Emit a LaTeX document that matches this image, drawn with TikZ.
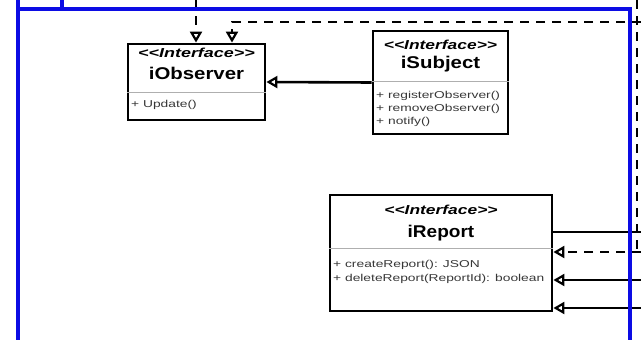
\documentclass[tikz,border=0pt]{standalone}
\usepackage{fontspec}
\setmainfont{Liberation Sans}
\usetikzlibrary{arrows.meta}
\definecolor{frameblue}{RGB}{12,12,228}
\definecolor{sepgray}{RGB}{175,175,175}
\definecolor{membergray}{RGB}{55,55,55}
% horizontally widened text
\newcommand{\wide}[2]{\scalebox{#1}[1]{#2}}
\newcommand{\stereotxt}{<{}<Interface>{}>}
\begin{document}
\begin{tikzpicture}[x=1pt,y=-1pt,
  umlbox/.style={draw=black, line width=2.8pt, rectangle, inner sep=0pt},
  stereo/.style={font=\fontsize{13}{13}\selectfont\bfseries\itshape, inner sep=0pt},
  cname/.style={font=\fontsize{17}{17}\selectfont\bfseries, inner sep=0pt},
  member/.style={font=\fontsize{10}{10}\selectfont, text=membergray, anchor=west, inner sep=0pt},
  sepline/.style={draw=sepgray, line width=0.7pt},
  conn/.style={draw=black, line width=2.6pt},
  dashconn/.style={conn, dash pattern=on 9pt off 7pt},
  realize/.style={-{Triangle[open, length=11pt, width=12pt, line width=2.2pt]}},
  frame/.style={draw=frameblue, line width=3.6pt, line join=miter}
]
\useasboundingbox (0,0) rectangle (641,340);

% class boxes
\node[umlbox, minimum width=137pt, minimum height=76pt] (obs) at (196.5,82) {};
\node[umlbox, minimum width=135pt, minimum height=103pt] (sub) at (440.5,82.5) {};
\node[umlbox, minimum width=222pt, minimum height=116pt] (rep) at (441,253) {};

% iObserver
\node[stereo] (obsst) at (196.5,53) {\wide{1.38}{\stereotxt}};
\node[cname] (obsnm) at (196.5,73) {\wide{1.2}{iObserver}};
\draw[sepline] (obs.west |- 0,92) -- (obs.east |- 0,92);
\node[member] (obsm1) at (131,105) {\wide{1.38}{+ Update()}};

% iSubject
\node[stereo] (subst) at (440.5,45) {\wide{1.34}{\stereotxt}};
\node[cname] (subnm) at (440.5,64) {\wide{1.2}{iSubject}};
\draw[sepline] (sub.west |- 0,81) -- (sub.east |- 0,81);
\node[member] (subm1) at (376,96) {\wide{1.38}{+ registerObserver()}};
\node[member] (subm2) at (376,109) {\wide{1.38}{+ removeObserver()}};
\node[member] (subm3) at (376,122) {\wide{1.38}{+ notify()}};

% iReport
\node[stereo] (repst) at (441,210) {\wide{1.34}{\stereotxt}};
\node[cname] (repnm) at (441,233) {\wide{1.12}{iReport}};
\draw[sepline] (rep.west |- 0,248) -- (rep.east |- 0,248);
\node[member] (repm1) at (333,265) {\wide{1.38}{+ createReport(): JSON}};
\node[member] (repm2) at (333,279) {\wide{1.38}{+ deleteReport(ReportId): boolean}};

% connector end points at the edges
\coordinate (topL) at (196,0);
\coordinate (edgeA) at (641,22);
\coordinate (bendA) at (232,22);
\coordinate (vtop) at (637,0);
\coordinate (vbot) at (637,252);
\coordinate (edgeB) at (641,252);
\coordinate (edgeC) at (641,232);
\coordinate (edgeD) at (641,280);
\coordinate (edgeE) at (641,308);

% connectors
\draw[conn, realize] (sub.west) -- (obs.east);
\draw[dashconn, realize] (topL) -- (obs.north -| topL);
\draw[dashconn, realize] (edgeA) -- (bendA) -- (bendA |- obs.north);
\draw[dashconn] (vtop) -- (vbot);
\draw[dashconn, realize] (edgeB) -- (edgeB -| rep.east);
\draw[conn] (rep.east |- edgeC) -- (edgeC);
\draw[conn, realize] (edgeD) -- (edgeD -| rep.east);
\draw[conn, realize] (edgeE) -- (edgeE -| rep.east);

% blue frame
\draw[frame] (18,0) -- (18,340);
\draw[frame] (18,9) -- (630,9) -- (630,340);
\draw[frame] (62,0) -- (62,9);
\end{tikzpicture}
\end{document}
